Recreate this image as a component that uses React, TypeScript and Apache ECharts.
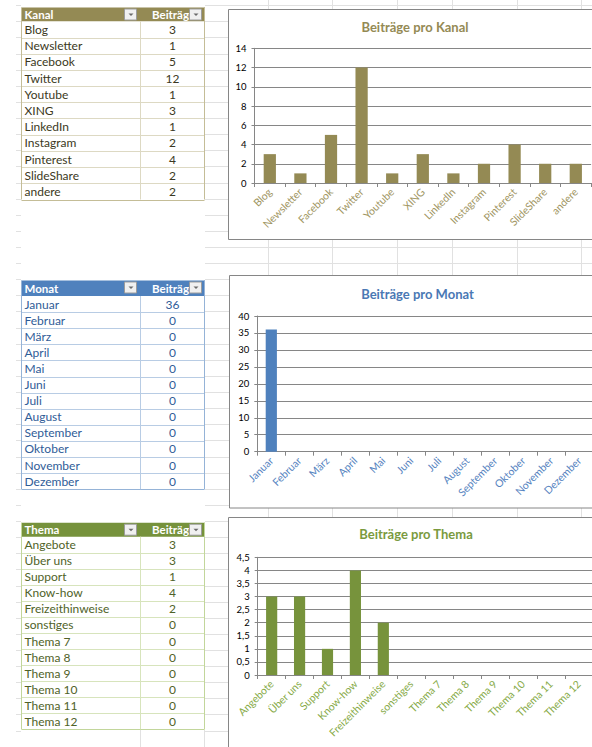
import React, { useEffect, useRef } from "react";
import * as echarts from "echarts";

// ---------- data ----------
const kanalHeader = ["Kanal", "Beiträge"];
const kanalCategories = ["Blog", "Newsletter", "Facebook", "Twitter", "Youtube", "XING", "LinkedIn", "Instagram", "Pinterest", "SlideShare", "andere"];
const kanalValues = [3, 1, 5, 12, 1, 3, 1, 2, 4, 2, 2];

const monatHeader = ["Monat", "Beiträge"];
const monatCategories = ["Januar", "Februar", "März", "April", "Mai", "Juni", "Juli", "August", "September", "Oktober", "November", "Dezember"];
const monatValues = [36, 0, 0, 0, 0, 0, 0, 0, 0, 0, 0, 0];

const themaHeader = ["Thema", "Beiträge"];
const themaCategories = ["Angebote", "Über uns", "Support", "Know-how", "Freizeithinweise", "sonstiges", "Thema 7", "Thema 8", "Thema 9", "Thema 10", "Thema 11", "Thema 12"];
const themaValues = [3, 3, 1, 4, 2, 0, 0, 0, 0, 0, 0, 0];

const chartTitles = ["Beiträge pro Kanal", "Beiträge pro Monat", "Beiträge pro Thema"];
const yMax = [14, 40, 4.5];
const yInterval = [2, 5, 0.5];

// ---------- styling ----------
const FONT = "Lato, 'Open Sans', sans-serif";
const GRAY = "#868686";

const palettes = [
  { head: "#948A54", line: "#DDD9C3", outer: "#C4BD97", text: "#3B3822", bar: "#948A54", title: "#948A54", xlab: "#A0955F" },
  { head: "#4F81BD", line: "#B8CCE4", outer: "#95B3D7", text: "#2F5C97", bar: "#4F81BD", title: "#4A78B4", xlab: "#5583C0" },
  { head: "#76923C", line: "#D7E4BC", outer: "#C2D69B", text: "#4F6228", bar: "#77933C", title: "#7A9A3E", xlab: "#86AA47" },
];

const tableGeom = [
  { top: 7.5, headBottom: 21.3, rowH: 16.2 },
  { top: 280.5, headBottom: 296, rowH: 16.1 },
  { top: 522.7, headBottom: 536.7, rowH: 16.05 },
];

const gridGeom = [
  { left: 254.5, top: 48.3, width: 336.6, height: 134.7 },
  { left: 257.3, top: 316, width: 336, height: 135.7 },
  { left: 257.7, top: 557.3, width: 335, height: 117.7 },
];

const frameGeom = [
  { x: 228.5, y: 9.5, h: 230 },
  { x: 229.5, y: 275.5, h: 232.5 },
  { x: 228.5, y: 517.5, h: 260 },
];

const titlePos = [
  { x: 415, y: 27 },
  { x: 417.5, y: 293.5 },
  { x: 416, y: 534 },
];

const TX0 = 21.5;
const TX1 = 140.5;
const TX2 = 204.5;

function textEl(text: string, x: number, y: number, fill: string, size: number, weight: string, align: string, z: number) {
  return {
    type: "text",
    z,
    style: {
      text,
      x,
      y,
      fill,
      fontSize: size,
      fontFamily: FONT,
      fontWeight: weight,
      align,
      textAlign: align,
      verticalAlign: "middle",
      textVerticalAlign: "middle",
    },
  };
}

function lineEl(x1: number, y1: number, x2: number, y2: number, stroke: string, z: number) {
  return { type: "line", z, shape: { x1, y1, x2, y2 }, style: { stroke, lineWidth: 1 } };
}

function buttonEls(x: number, y: number, z: number) {
  return [
    { type: "rect", z, shape: { x: x + 0.5, y: y + 0.5, width: 12, height: 11 }, style: { fill: "#F0F0F0", stroke: "#9C9C9C", lineWidth: 1 } },
    { type: "polygon", z: z + 1, shape: { points: [[x + 4.5, y + 5], [x + 9.5, y + 5], [x + 7, y + 7.5]] }, style: { fill: "#6A6A6A" } },
  ];
}

function buildTable(idx: number, header: string[], cats: string[], vals: number[]) {
  const g = tableGeom[idx];
  const p = palettes[idx];
  const els: any[] = [];
  const bottom = g.headBottom + cats.length * g.rowH;
  els.push({ type: "rect", z: 5, shape: { x: TX0, y: g.top, width: TX2 - TX0 + 0.5, height: g.headBottom - g.top }, style: { fill: p.head } });
  els.push(textEl(header[0], TX0 + 3, (g.top + g.headBottom) / 2, "#FFFFFF", 11.5, "bold", "left", 6));
  els.push(textEl(header[1], 195, (g.top + g.headBottom) / 2, "#FFFFFF", 11.5, "bold", "right", 6));
  els.push(...buttonEls(124, g.top + 1, 7));
  els.push(...buttonEls(189, g.top + 1, 7));
  cats.forEach((c, i) => {
    const yb = g.headBottom + (i + 1) * g.rowH;
    const yc = g.headBottom + (i + 0.5) * g.rowH;
    els.push(lineEl(TX0, Math.round(yb) + 0.5, TX2, Math.round(yb) + 0.5, i === cats.length - 1 ? p.outer : p.line, 5));
    els.push(textEl(c, TX0 + 3, yc, p.text, 12, "normal", "left", 6));
    els.push(textEl(String(vals[i]), (TX1 + TX2) / 2, yc, p.text, 12, "normal", "center", 6));
  });
  els.push(lineEl(TX0, g.top, TX0, bottom, p.outer, 5));
  els.push(lineEl(TX1, g.headBottom, TX1, bottom, p.line, 5));
  els.push(lineEl(TX2, g.top, TX2, bottom, p.outer, 5));
  return els;
}

function buildBackground() {
  const els: any[] = [];
  const cellLine = "#E1E1E1";
  const colXs = [268.5, 332.5, 397.5, 452.5, 517.5, 581.5];
  colXs.forEach((x) => els.push(lineEl(x, 0, x, 747, cellLine, -30)));
  for (let k = 0; k < 47; k++) {
    const y = Math.round(5.2 + 16.12 * k) + 0.5;
    els.push(lineEl(205, y, 592, y, cellLine, -30));
    els.push(lineEl(16, y, 21, y, cellLine, -30));
  }
  // empty cells below the third table
  els.push(lineEl(TX1, 730, TX1, 747, cellLine, -30));
  els.push(lineEl(TX2, 730, TX2, 747, cellLine, -30));
  frameGeom.forEach((f) => {
    els.push({ type: "rect", z: -20, shape: { x: f.x, y: f.y, width: 400, height: f.h }, style: { fill: "#FFFFFF", stroke: GRAY, lineWidth: 1 } });
  });
  return els;
}

export default function App() {
  const ref = useRef<HTMLDivElement>(null);

  useEffect(() => {
    if (!ref.current) return;
    const chart = echarts.init(ref.current, undefined, { renderer: "svg" });
    const cats = [kanalCategories, monatCategories, themaCategories];
    const vals = [kanalValues, monatValues, themaValues];

    const graphicEls: any[] = [
      ...buildBackground(),
      ...buildTable(0, kanalHeader, kanalCategories, kanalValues),
      ...buildTable(1, monatHeader, monatCategories, monatValues),
      ...buildTable(2, themaHeader, themaCategories, themaValues),
      ...chartTitles.map((t, i) => textEl(t, titlePos[i].x, titlePos[i].y, palettes[i].title, 13, "bold", "center", 8)),
    ];

    const option: any = {
      animation: false,
      backgroundColor: "#FFFFFF",
      textStyle: { fontFamily: FONT },
      grid: gridGeom.map((g) => ({ ...g, outerBoundsMode: "none", containLabel: false })),
      xAxis: [0, 1, 2].map((i) => ({
        type: "category",
        gridIndex: i,
        data: cats[i],
        axisLine: { show: true, lineStyle: { color: GRAY, width: 1 } },
        axisTick: { show: true, length: 4, lineStyle: { color: GRAY } },
        axisLabel: { interval: 0, rotate: 45, fontSize: 10.5, fontFamily: FONT, color: palettes[i].xlab, margin: 7 },
        splitLine: { show: false },
      })),
      yAxis: [0, 1, 2].map((i) => ({
        type: "value",
        gridIndex: i,
        min: 0,
        max: yMax[i],
        interval: yInterval[i],
        axisLine: { show: true, lineStyle: { color: GRAY, width: 1 } },
        axisTick: { show: true, length: 3, lineStyle: { color: GRAY } },
        axisLabel: {
          fontSize: 9.5,
          fontFamily: FONT,
          color: "#000000",
          margin: 8,
          formatter: (v: number) => String(v).replace(".", ","),
        },
        splitLine: { show: true, lineStyle: { color: GRAY, width: 1 } },
      })),
      series: [0, 1, 2].map((i) => ({
        type: "bar",
        xAxisIndex: i,
        yAxisIndex: i,
        data: vals[i],
        barWidth: "40%",
        itemStyle: { color: palettes[i].bar },
      })),
      graphic: { elements: graphicEls },
    };
    chart.setOption(option);
    return () => chart.dispose();
  }, []);

  return <div ref={ref} style={{ position: "absolute", left: 0, top: 0, width: 592, height: 747 }} />;
}
